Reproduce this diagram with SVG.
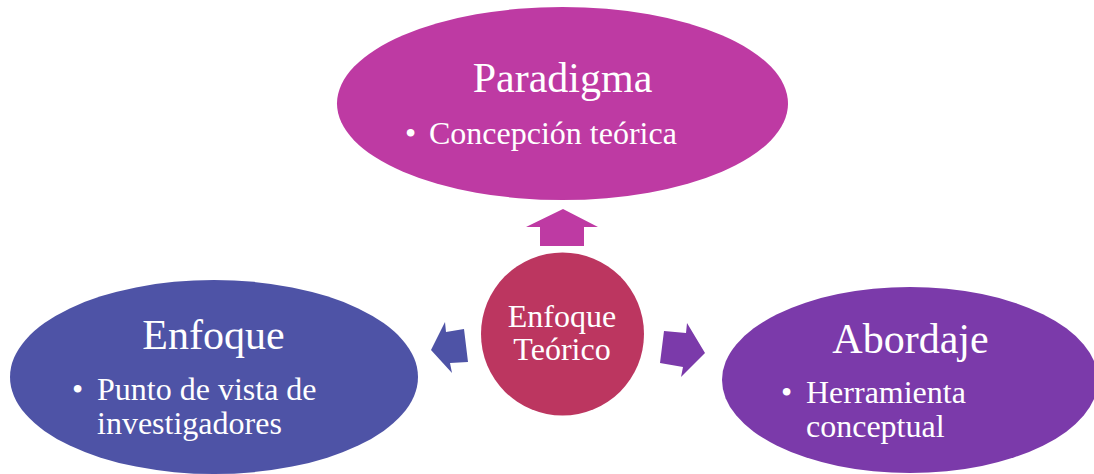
<svg xmlns="http://www.w3.org/2000/svg" width="1094" height="474" viewBox="0 0 1094 474">
<style>
text{font-family:"Liberation Serif","Times New Roman",serif;fill:#fff}
.t{font-size:42px;text-anchor:middle}
.b{font-size:32px}
.c{font-size:32px;text-anchor:middle}
</style>
<rect width="1094" height="474" fill="#fff"/>
<g id="connectors">
<polygon points="563,209 526,227 540,227 540,246 584,246 584,227 598,227" fill="#BE3AA3"/>
<polygon points="431,350 445,322 446,332 464,329 468,362 450,363 452,373" fill="#4E53A6"/>
<polygon points="705,353 687,323 686,333 664,331 660,363 683,367 681,377" fill="#7B3AAA"/>
</g>
<g id="paradigma">
<ellipse cx="562.5" cy="103.5" rx="225.5" ry="96.5" fill="#BE3AA3"/>
<text class="t" x="562.5" y="92">Paradigma</text>
<text class="b" x="405" y="144">•</text>
<text class="b" x="429" y="144">Concepción teórica</text>
</g>
<g id="enfoque">
<ellipse cx="214" cy="377" rx="204" ry="97" fill="#4E53A6"/>
<text class="t" x="213.5" y="349">Enfoque</text>
<text class="b" x="72" y="400">•</text>
<text class="b" x="97" y="400">Punto de vista de</text>
<text class="b" x="97" y="434">investigadores</text>
</g>
<g id="abordaje">
<ellipse cx="910" cy="380" rx="188" ry="93" fill="#7B3AAA"/>
<text class="t" x="910.5" y="353">Abordaje</text>
<text class="b" x="781" y="403">•</text>
<text class="b" x="806" y="403">Herramienta</text>
<text class="b" x="806" y="437">conceptual</text>
</g>
<g id="enfoque-teorico">
<circle cx="562.5" cy="334" r="81.5" fill="#BC3660"/>
<text class="c" x="562" y="327">Enfoque</text>
<text class="c" x="562" y="360">Teórico</text>
</g>
</svg>
